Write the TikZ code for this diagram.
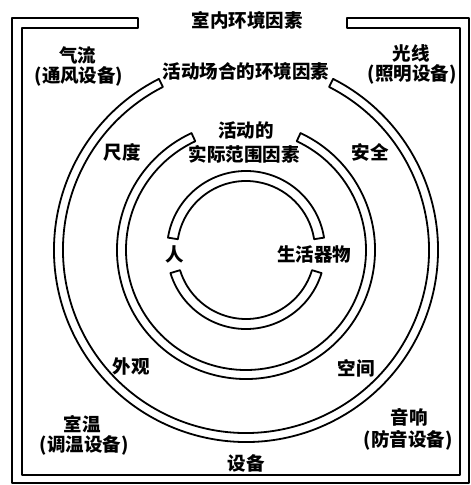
\documentclass[tikz,border=0pt]{standalone}
\usepackage{fontspec}
\newfontfamily\cjk{Noto Sans CJK SC}
\usetikzlibrary{calc}

\begin{document}
\begin{tikzpicture}[x=1pt, y=1pt,
    band/.style={line width=1.8pt, line join=round},
    lbl/.style={font=\cjk\bfseries\fontsize{18.5}{20}\selectfont, inner sep=0pt}]
  \useasboundingbox (0,0) rectangle (471,485);

  \coordinate (O) at (246,235);

  % outer frame, open at the top
  \draw[band] (138,467) -- (12,467) -- (12,2) -- (469,2) -- (469,467)
    -- (347,467) -- (347,457) -- (460,457) -- (460,10) -- (22,10)
    -- (22,457) -- (138,457) -- cycle;

  % rings
  \foreach \R/\r/\a/\b in {192/183/117/423, 129/120/115/425, 79/69/9/171, 79/69/197/343}
    \draw[band] ($(O)+(\a:\R)$) arc[start angle=\a, end angle=\b, radius=\R]
      -- ($(O)+(\b:\r)$) arc[start angle=\b, end angle=\a, radius=\r] -- cycle;

  \node[lbl] (room) at (247,465) {室内环境因素};
  \node[lbl] (air) at (78,430) {气流};
  \node[lbl] (airdev) at (79,409) {(通风设备)};
  \node[lbl] (light) at (411,432) {光线};
  \node[lbl] (lightdev) at (412,411) {(照明设备)};
  \node[lbl] (place) at (246,414) {活动场合的环境因素};
  \node[lbl] (act) at (246,355) {活动的};
  \node[lbl] (range) at (244,331) {实际范围因素};
  \node[lbl] (scale) at (122,333) {尺度};
  \node[lbl] (safe) at (370,333) {安全};
  \node[lbl] (man) at (175,231) {人};
  \node[lbl] (things) at (314,231) {生活器物};
  \node[lbl] (look) at (131,119) {外观};
  \node[lbl] (space) at (356,117) {空间};
  \node[lbl] (temp) at (82,61) {室温};
  \node[lbl] (tempdev) at (84,40) {(调温设备)};
  \node[lbl] (sound) at (409,68) {音响};
  \node[lbl] (sounddev) at (408,45) {(防音设备)};
  \node[lbl] (equip) at (246,22) {设备};
\end{tikzpicture}
\end{document}
